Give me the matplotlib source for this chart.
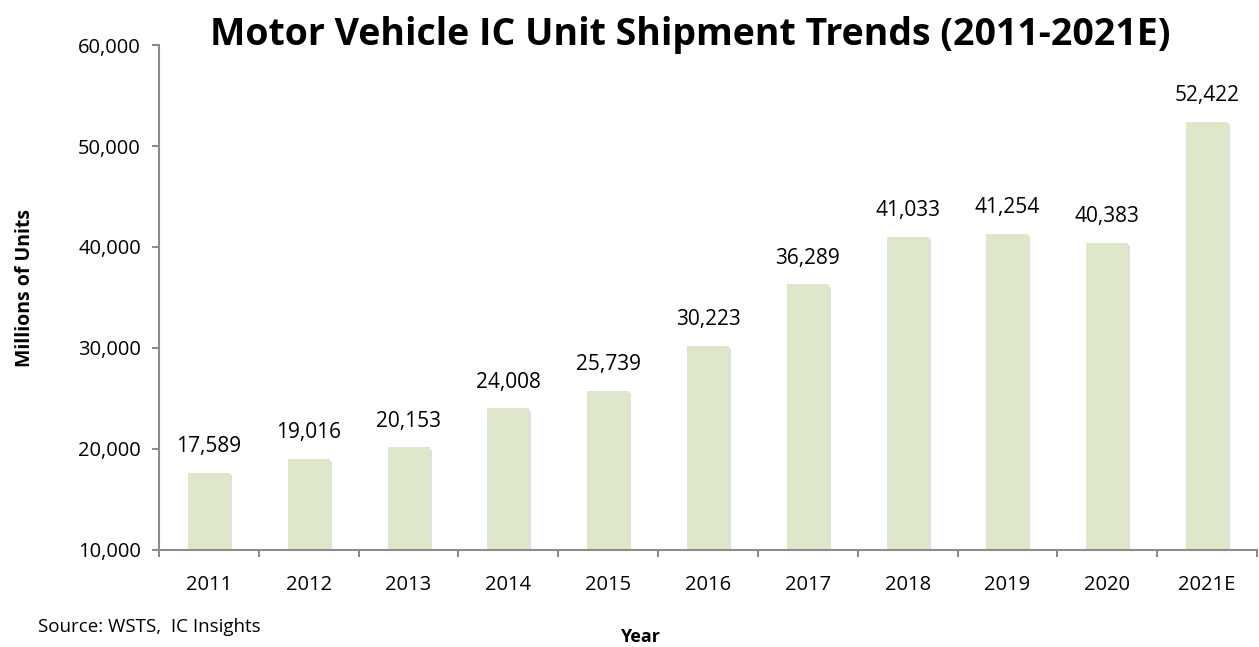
import numpy as np
import matplotlib.pyplot as plt
import matplotlib.patheffects as pe
from matplotlib.ticker import FuncFormatter

plt.rcParams['font.family'] = ['Open Sans', 'DejaVu Sans']

years = ['2011', '2012', '2013', '2014', '2015', '2016', '2017', '2018', '2019', '2020', '2021E']
units = [17589, 19016, 20153, 24008, 25739, 30223, 36289, 41033, 41254, 40383, 52422]

title = 'Motor Vehicle IC Unit Shipment Trends (2011-2021E)'
bar_color = '#dfe7cb'
axis_color = '#8c8c8c'

fig = plt.figure(figsize=(12.59, 6.47), dpi=100)
ax = fig.add_axes([0.1263, 0.150, 0.8721, 0.7804])

x = np.arange(len(years))
bars = ax.bar(x, units, width=0.42, bottom=0, color=bar_color, zorder=2)
for b in bars:
    b.set_path_effects([pe.withSimplePatchShadow(offset=(1.5, -1.5), shadow_rgbFace='#9a9a9a', alpha=0.3),
                        pe.Normal()])

for xi, v in zip(x, units):
    ax.annotate(f'{v:,}', (xi, v), xytext=(0, 19), textcoords='offset points',
                ha='center', va='center', fontsize=15)

ax.set_ylim(10000, 60000)
ax.set_xlim(-0.5, len(years) - 0.5)
ax.set_yticks(np.arange(10000, 60001, 10000))
ax.yaxis.set_major_formatter(FuncFormatter(lambda v, p: f'{int(v):,}'))

ax.set_xticks(x)
ax.set_xticklabels(years)
ax.set_xticks(np.arange(-0.5, len(years)), minor=True)
ax.tick_params(axis='x', which='major', length=0, pad=18, labelsize=14.5)
ax.tick_params(axis='x', which='minor', length=5, width=1.5, color=axis_color)
ax.tick_params(axis='y', length=5, width=1.5, color=axis_color, pad=8, labelsize=14.5)

for s in ['top', 'right']:
    ax.spines[s].set_visible(False)
for s in ['left', 'bottom']:
    ax.spines[s].set_color(axis_color)
    ax.spines[s].set_linewidth(1.5)

fig.text(0.548, 0.930, title, ha='center', va='baseline', fontsize=27, fontweight='bold')
fig.text(0.02, 0.555, 'Millions of Units', rotation=90, ha='center', va='center',
         fontsize=14, fontweight='bold')
fig.text(0.508, 0.016, 'Year', ha='center', va='center', fontsize=13, fontweight='bold')
fig.text(0.03, 0.031, 'Source: WSTS,  IC Insights', ha='left', va='center', fontsize=13.5)

plt.savefig('out.png', dpi=100)
